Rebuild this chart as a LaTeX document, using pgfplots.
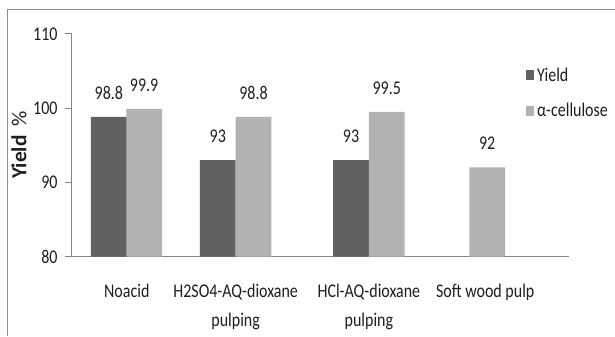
\documentclass[border=0pt]{standalone}
\usepackage{fontspec}
\setmainfont{Carlito}[FakeStretch=0.825]
\newfontfamily\labelfont{Carlito}
\usepackage{pgfplots}
\pgfplotsset{compat=1.18}
\definecolor{yieldc}{RGB}{96,96,96}
\definecolor{cellc}{RGB}{178,178,178}
\definecolor{axisc}{RGB}{134,134,134}
\definecolor{framec}{RGB}{140,140,140}
\definecolor{txtc}{RGB}{30,30,30}
\newcommand{\chfont}{\fontsize{19.5bp}{30bp}\selectfont}
\begin{document}
\begin{tikzpicture}
\begin{axis}[
  scale only axis, width=500bp, height=224bp,
  xmin=72, xmax=572, ymin=80, ymax=110,
  ybar, bar width=36,
  axis lines*=left,
  axis line style={draw=axisc, line width=0.8bp},
  ytick={80,90,100,110},
  xtick={127.5,237,371,488},
  xticklabels={Noacid, {H2SO4-AQ-dioxane\\pulping}, {HCl-AQ-dioxane\\pulping}, Soft wood pulp},
  xticklabel style={align=center, font=\chfont, text=txtc, anchor=north, inner sep=0pt, yshift=-20bp},
  xtick style={draw=none},
  ytick style={draw=axisc, line width=0.8bp},
  tick align=outside, major tick length=7bp,
  yticklabel style={font=\chfont, text=txtc, inner sep=0pt, anchor=east, xshift=-7bp},
  /pgf/number format/assume math mode=true,
  nodes near coords,
  every node near coord/.append style={font=\chfont, text=txtc, anchor=south, inner sep=0pt, yshift=17.5bp},
  ylabel={\textbf{Yield}\hspace{0.4em}\%},
  every axis y label/.style={at={(axis description cs:-0.106,0.5)}, rotate=90, anchor=center, font={\labelfont\fontsize{21.5bp}{24bp}\selectfont}, text=txtc},
  legend image code/.code={\fill[#1] (0bp,-5bp) rectangle (8bp,5bp);},
  legend style={draw=none, fill=none, at={(axis cs:529,102.03)}, anchor=west, inner sep=0pt, row sep=21bp, column sep=3bp, font=\chfont, text=txtc, nodes={inner sep=0pt, anchor=west}},
  legend cell align=left,
]
\addplot[fill=yieldc, draw=none, bar shift=0pt] coordinates {(109.5,98.8) (219,93) (353,93)};
\addlegendentry{Yield}
\addplot[fill=cellc, draw=none, bar shift=0pt] coordinates {(145,99.9) (255,98.8) (389,99.5) (490,92)};
\addlegendentry{α-cellulose}
\end{axis}
\coordinate (O) at (current axis.south west);
\draw[framec, line width=1bp] ([shift={(-64bp,-80bp)}]O) -- ([shift={(-64bp,248.5bp)}]O) -- ([shift={(546bp,248.5bp)}]O);
\path[use as bounding box] ([shift={(-72bp,-77bp)}]O) rectangle ([shift={(543bp,258bp)}]O);
\end{tikzpicture}
\end{document}
